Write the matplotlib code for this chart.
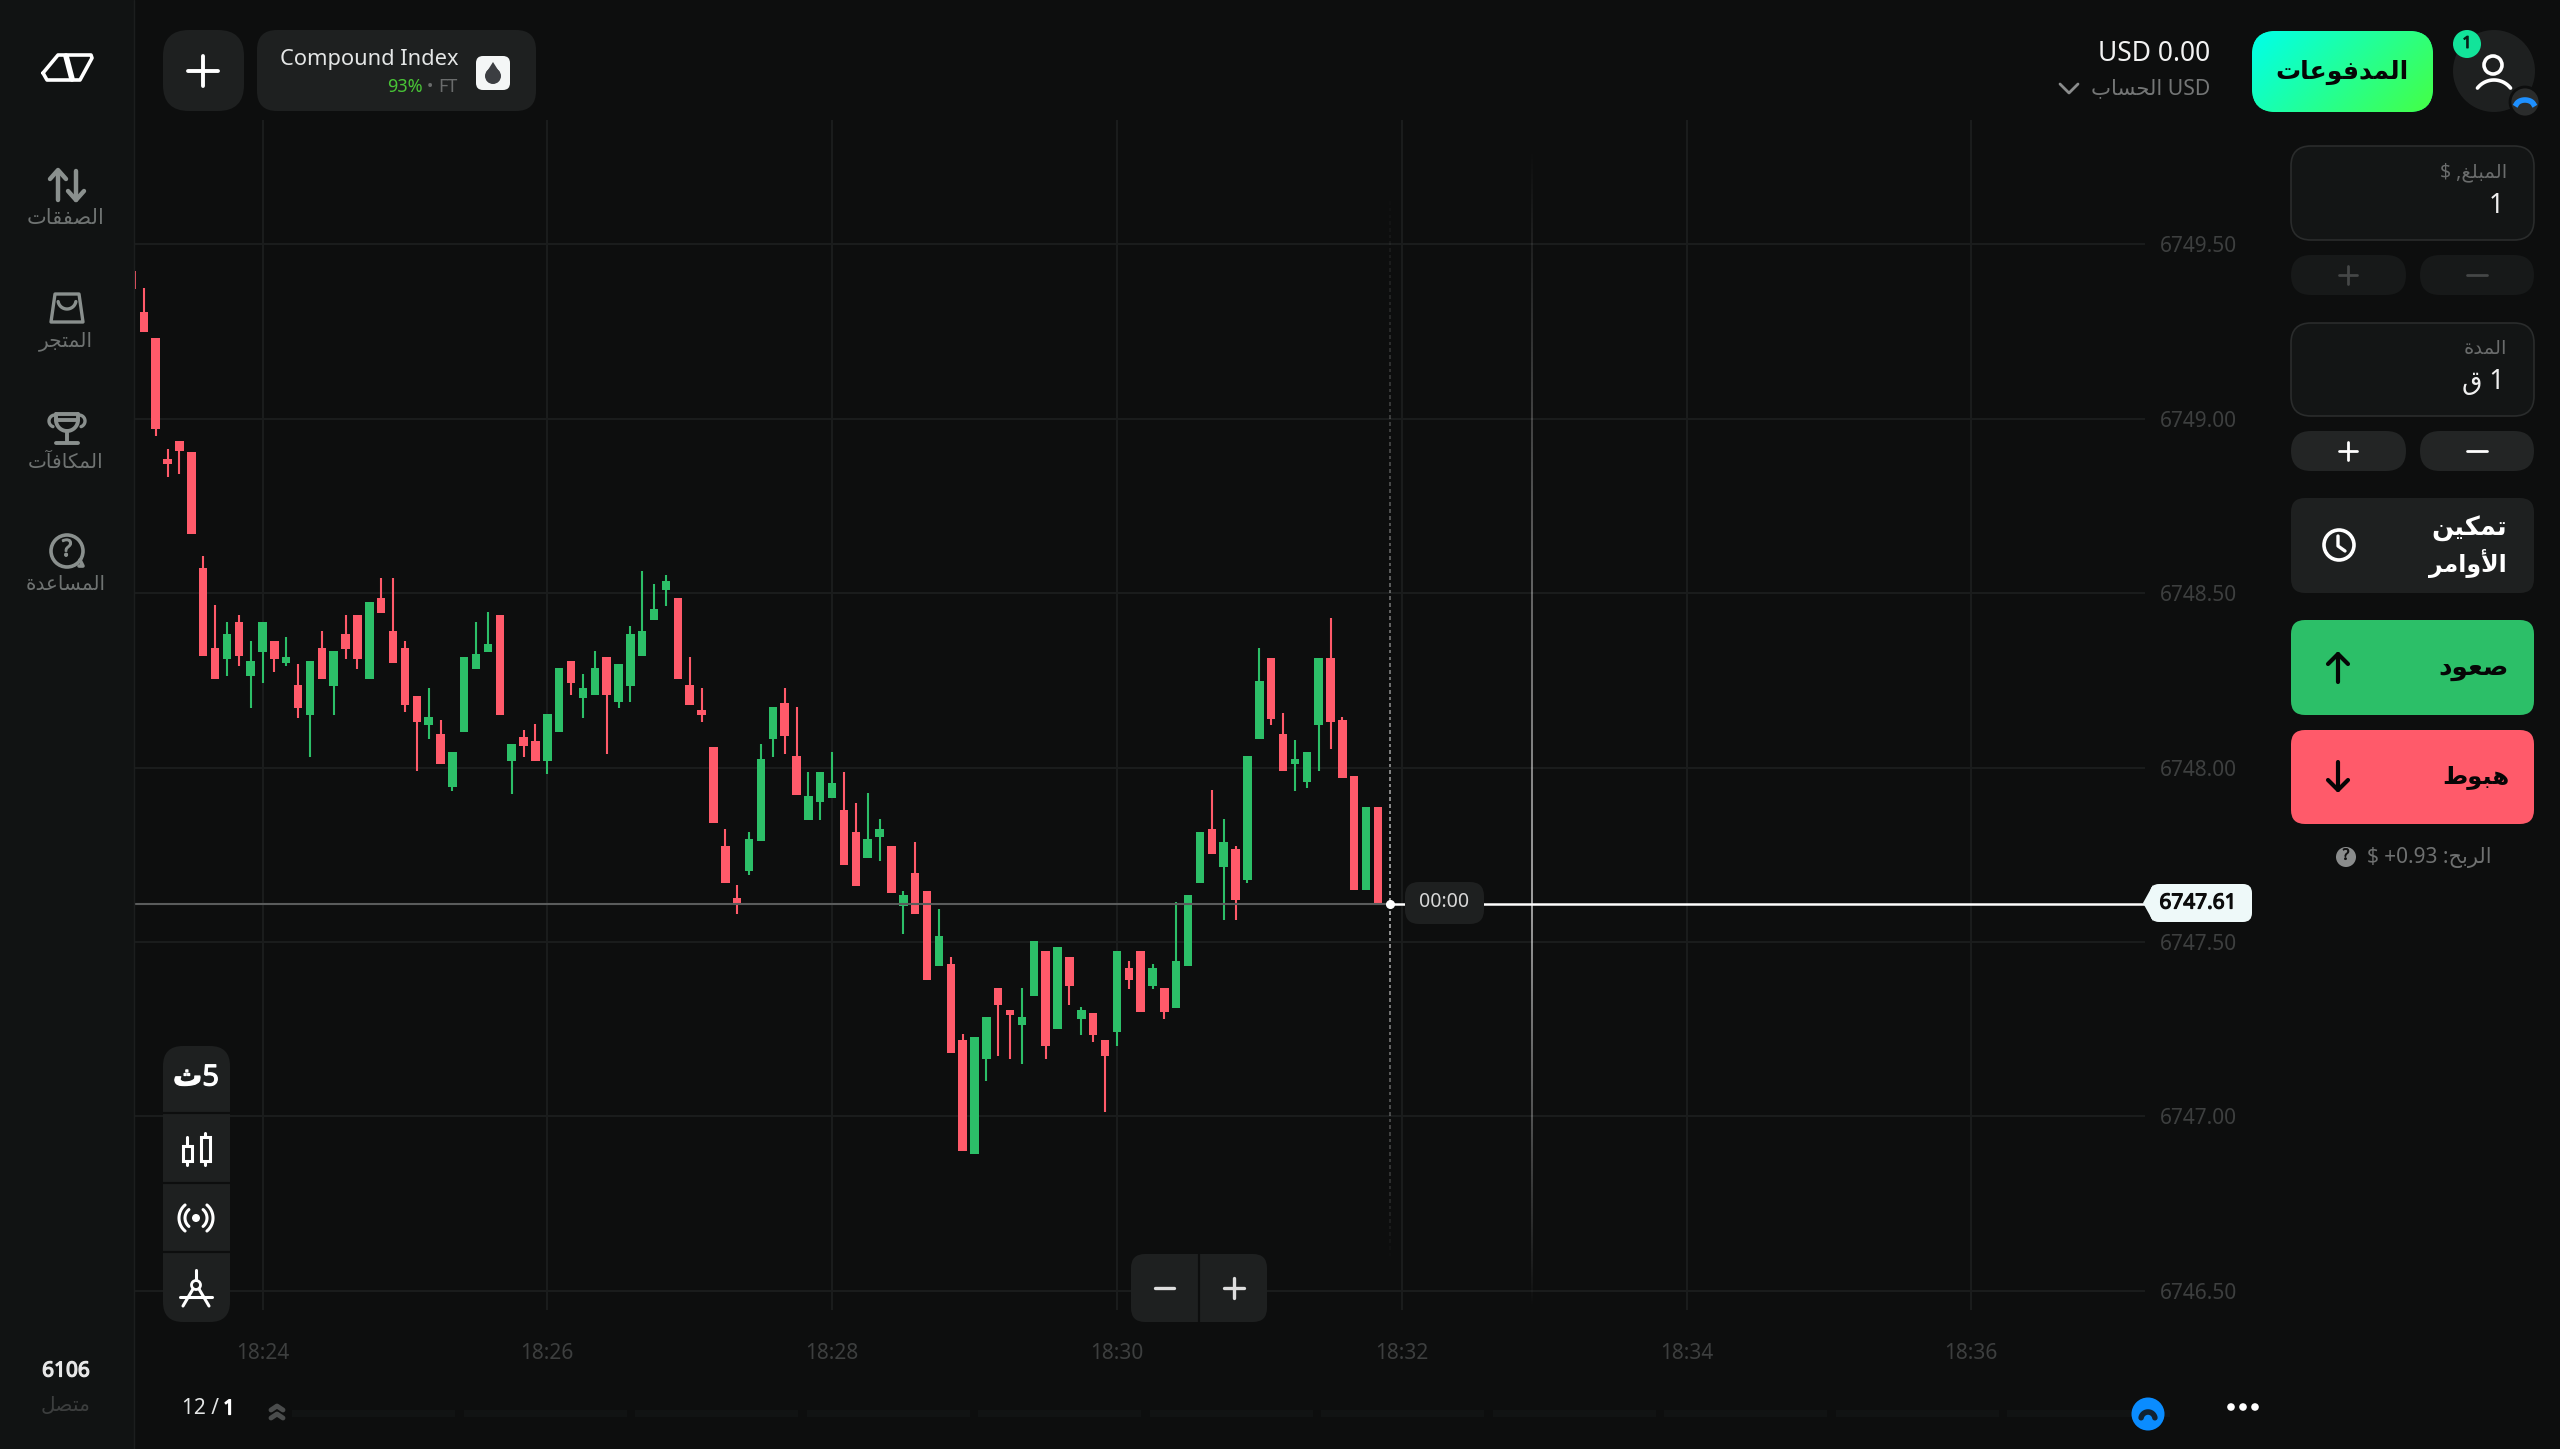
#!/usr/bin/env python3
import numpy as np
import matplotlib
matplotlib.use("Agg")
import matplotlib.pyplot as plt
import matplotlib.patheffects as pe
from matplotlib.patches import FancyBboxPatch, Circle, Polygon, Rectangle

plt.rcParams['font.family'] = ['Noto Sans', 'DejaVu Sans']

# seconds after 18:24:00, one candle every 5 s
candle_times = list(range(-55, 475, 5))

price_base = 6740
opens = [
    9.423, 9.306, 9.233, 8.884, 8.937, 8.904, 8.573, 8.344, 8.311, 8.417,
    8.263, 8.330, 8.364, 8.301, 8.238, 8.151, 8.344, 8.234, 8.383, 8.437,
    8.253, 8.486, 8.393, 8.344, 8.204, 8.121, 8.097, 7.943, 8.103, 8.282,
    8.330, 8.437, 8.020, 8.088, 8.077, 8.020, 8.103, 8.306, 8.199, 8.209,
    8.316, 8.189, 8.234, 8.321, 8.422, 8.510, 8.486, 8.238, 8.165, 8.058,
    7.776, 7.626, 7.703, 7.790, 8.082, 8.184, 8.034, 7.849, 7.902, 7.912,
    7.878, 7.816, 7.742, 7.800, 7.776, 7.602, 7.698, 7.645, 7.432, 7.436,
    7.218, 6.892, 7.164, 7.368, 7.305, 7.262, 7.344, 7.475, 7.252, 7.456,
    7.280, 7.296, 7.218, 7.242, 7.426, 7.475, 7.373, 7.368, 7.310, 7.432,
    7.669, 7.824, 7.714, 7.766, 7.678, 8.082, 8.315, 8.096, 8.009, 7.960,
    8.122, 8.315, 8.136, 7.975, 7.650, 7.888,
]
closes = [
    9.371, 9.249, 8.972, 8.870, 8.908, 8.670, 8.321, 8.253, 8.383, 8.321,
    8.306, 8.417, 8.311, 8.316, 8.170, 8.306, 8.253, 8.335, 8.340, 8.311,
    8.476, 8.442, 8.301, 8.180, 8.132, 8.146, 8.011, 8.044, 8.316, 8.325,
    8.355, 8.151, 8.068, 8.063, 8.020, 8.155, 8.286, 8.243, 8.228, 8.286,
    8.209, 8.296, 8.383, 8.393, 8.456, 8.534, 8.253, 8.180, 8.151, 7.840,
    7.669, 7.610, 7.795, 8.024, 8.174, 8.092, 7.922, 7.918, 7.986, 7.956,
    7.722, 7.660, 7.795, 7.824, 7.640, 7.635, 7.581, 7.392, 7.518, 7.183,
    6.901, 7.227, 7.285, 7.320, 7.290, 7.285, 7.504, 7.202, 7.485, 7.373,
    7.305, 7.232, 7.174, 7.475, 7.392, 7.300, 7.426, 7.300, 7.446, 7.636,
    7.816, 7.752, 7.786, 7.620, 8.034, 8.248, 8.140, 7.990, 8.024, 8.044,
    8.315, 8.130, 7.970, 7.650, 7.888, 7.611,
]
highs = [
    9.423, 9.375, 9.233, 8.913, 8.937, 8.904, 8.607, 8.465, 8.417, 8.437,
    8.364, 8.417, 8.364, 8.373, 8.296, 8.306, 8.393, 8.335, 8.437, 8.437,
    8.476, 8.544, 8.544, 8.364, 8.204, 8.228, 8.136, 8.044, 8.316, 8.417,
    8.446, 8.437, 8.068, 8.107, 8.126, 8.155, 8.286, 8.306, 8.268, 8.335,
    8.316, 8.296, 8.407, 8.564, 8.525, 8.553, 8.486, 8.316, 8.228, 8.058,
    7.824, 7.664, 7.815, 8.068, 8.174, 8.228, 8.174, 7.986, 7.986, 8.044,
    7.986, 7.898, 7.928, 7.854, 7.776, 7.645, 7.786, 7.645, 7.596, 7.456,
    7.237, 7.227, 7.285, 7.368, 7.305, 7.368, 7.504, 7.475, 7.485, 7.456,
    7.315, 7.296, 7.218, 7.475, 7.446, 7.475, 7.436, 7.368, 7.616, 7.636,
    7.816, 7.936, 7.854, 7.776, 8.034, 8.344, 8.315, 8.156, 8.078, 8.044,
    8.315, 8.428, 8.146, 7.975, 7.888, 7.888,
]
lows = [
    9.371, 9.249, 8.952, 8.832, 8.841, 8.670, 8.321, 8.253, 8.263, 8.291,
    8.170, 8.243, 8.273, 8.291, 8.141, 8.030, 8.253, 8.151, 8.311, 8.282,
    8.253, 8.442, 8.301, 8.160, 7.991, 8.083, 8.011, 7.932, 8.103, 8.282,
    8.330, 8.151, 7.923, 8.030, 8.020, 7.981, 8.103, 8.209, 8.141, 8.209,
    8.039, 8.170, 8.189, 8.321, 8.422, 8.462, 8.253, 8.180, 8.132, 7.840,
    7.669, 7.581, 7.693, 7.790, 8.030, 8.039, 7.922, 7.849, 7.850, 7.912,
    7.722, 7.660, 7.742, 7.732, 7.640, 7.524, 7.581, 7.392, 7.432, 7.183,
    6.901, 6.892, 7.101, 7.174, 7.164, 7.150, 7.344, 7.164, 7.252, 7.320,
    7.232, 7.212, 7.014, 7.202, 7.364, 7.300, 7.364, 7.280, 7.310, 7.432,
    7.669, 7.752, 7.563, 7.563, 7.669, 8.082, 8.122, 7.990, 7.932, 7.942,
    7.990, 8.054, 7.970, 7.650, 7.650, 7.611,
]

time_ticks = [0, 120, 240, 360, 480, 600, 720]
time_labels = ["18:24", "18:26", "18:28", "18:30", "18:32", "18:34", "18:36"]
price_ticks = [6746.5, 6747.0, 6747.5, 6748.0, 6748.5, 6749.0, 6749.5]
current_price = 6747.61
current_time = 475
expiry_time = 535

GREEN = "#2cbf68"
RED = "#ff5a6a"
BG = "#0d0e0e"
PANEL = "#1e2020"
GRID = "#1b1d1d"
ICON = "#8a908e"

# matplotlib has no Arabic shaping, so pick the joined glyphs and reverse
DUAL = {'ب': 0xFE8F, 'ت': 0xFE95, 'ث': 0xFE99, 'ج': 0xFE9D, 'ح': 0xFEA1, 'س': 0xFEB1,
        'ص': 0xFEB9, 'ط': 0xFEC1, 'ع': 0xFEC9, 'غ': 0xFECD, 'ف': 0xFED1, 'ق': 0xFED5,
        'ك': 0xFED9, 'ل': 0xFEDD, 'م': 0xFEE1, 'ن': 0xFEE5, 'ه': 0xFEE9, 'ي': 0xFEF1}
RIGHT = {'آ': 0xFE81, 'أ': 0xFE83, 'ا': 0xFE8D, 'ة': 0xFE93, 'د': 0xFEA9, 'ر': 0xFEAD, 'و': 0xFEED}
LAM_ALEF = {'آ': 0xFEF5, 'أ': 0xFEF7, 'ا': 0xFEFB}


def ar(word):
    out = []
    prev_joins = False
    i = 0
    while i < len(word):
        c = word[i]
        nxt = word[i + 1] if i + 1 < len(word) else ''
        if c == 'ل' and nxt and nxt in LAM_ALEF:
            out.append(chr(LAM_ALEF[nxt] + (1 if prev_joins else 0)))
            prev_joins = False
            i += 2
            continue
        if c in RIGHT:
            out.append(chr(RIGHT[c] + (1 if prev_joins else 0)))
            prev_joins = False
        else:
            joins_next = bool(nxt) and (nxt in DUAL or nxt in RIGHT)
            form = {(False, False): 0, (True, False): 1, (False, True): 2, (True, True): 3}[(prev_joins, joins_next)]
            out.append(chr(DUAL[c] + form))
            prev_joins = joins_next
        i += 1
    return ''.join(reversed(out))


fig = plt.figure(figsize=(25.6, 14.49), dpi=100, facecolor=BG)

# chart area, placed by pixels
left, right, top, bottom = 135, 2145, 120, 1310
ax = fig.add_axes([left / 2560, 1 - bottom / 1449, (right - left) / 2560, (bottom - top) / 1449])
ax.set_facecolor(BG)
px_per_sec = 142.4 / 60
px_per_price = 348.8
xlim = ((left - 262.5) / px_per_sec, (right - 262.5) / px_per_sec)
ylim = (6748 + (767.6 - bottom) / px_per_price, 6748 + (767.6 - top) / px_per_price)

for s in ax.spines.values():
    s.set_visible(False)
ax.yaxis.tick_right()
ax.set_xticks(time_ticks)
ax.set_xticklabels(time_labels)
ax.set_yticks(price_ticks)
ax.set_yticklabels(["{:.2f}".format(p) for p in price_ticks])
ax.tick_params(axis='x', length=0, pad=24, labelsize=15, labelcolor="#3d3f3f")
ax.tick_params(axis='y', length=0, pad=11, labelsize=15, labelcolor="#3d3f3f")
ax.grid(True, color=GRID, linewidth=1.4)
ax.set_axisbelow(True)

opens_p = price_base + np.array(opens)
closes_p = price_base + np.array(closes)
highs_p = price_base + np.array(highs)
lows_p = price_base + np.array(lows)
colors = [GREEN if c > o else RED for o, c in zip(opens_p, closes_p)]

ax.vlines(candle_times, lows_p, highs_p, colors=colors, linewidth=1.5, zorder=3)
ax.bar(candle_times, np.abs(closes_p - opens_p), bottom=np.minimum(opens_p, closes_p),
       width=3.55, color=colors, zorder=3)


def fade_alpha(ys, y_low, y_high, peak):
    # brightest at the current price, fading towards both ends
    dist = np.where(ys > current_price,
                    (ys - current_price) / (y_high - current_price),
                    (current_price - ys) / (current_price - y_low))
    return peak * (1 - np.clip(dist, 0, 1))


def fade_dashes(t, y_low, y_high, peak, step, on, lw):
    starts = np.arange(y_low, y_high, step)
    cols = [(1, 1, 1, al) for al in fade_alpha(starts, y_low, y_high, peak)]
    ax.vlines([t] * len(starts), starts, starts + on, colors=cols, linewidth=lw, zorder=2)


def fade_solid(t, y_low, y_high, peak, half_width):
    ys = np.linspace(y_low, y_high, 600)
    rgba = np.ones((600, 1, 4))
    rgba[:, 0, 3] = fade_alpha(ys, y_low, y_high, peak)
    ax.imshow(rgba, extent=(t - half_width, t + half_width, y_low, y_high), origin='lower',
              aspect='auto', zorder=2, interpolation='bilinear')


# current price and time marks
ax.plot([xlim[0], current_time], [current_price] * 2, color="#5a5c5c", lw=1.5, zorder=4)
ax.plot([current_time, xlim[1]], [current_price] * 2, color="white", lw=1.8, zorder=4)
ax.plot([current_time], [current_price], 'o', color="white", ms=5.5, zorder=6)
fade_dashes(current_time, 6746.58, 6749.65, 0.65, 0.0192, 0.0105, 1.3)
fade_solid(expiry_time, 6746.445, 6749.79, 0.6, 0.42)
ax.set_xlim(xlim)
ax.set_ylim(ylim)

# interface layer in pixel coordinates
ui = fig.add_axes([0, 0, 1, 1], zorder=5)
ui.patch.set_alpha(0)
ui.axis('off')


def box(x0, y0, x1, y1, color, radius=20, edge='none', lw=1.2):
    p = FancyBboxPatch((x0, y0), x1 - x0, y1 - y0, boxstyle="round,pad=0,rounding_size={}".format(radius),
                       facecolor=color, edgecolor=edge, linewidth=lw)
    ui.add_patch(p)
    return p


def txt(x, y, s, size, color="white", ha='center', weight='normal', fat=0, zorder=3):
    t = ui.text(x, y + 2, s, fontsize=size, color=color, ha=ha, va='center', fontweight=weight, zorder=zorder)
    if fat:
        # the numeral font only comes in one weight here, so thicken the outline
        t.set_path_effects([pe.withStroke(linewidth=fat, foreground=color)])


def ln(xs, ys, color="white", lw=2.2):
    ui.plot(xs, ys, color=color, lw=lw, solid_capstyle='round', solid_joinstyle='round')


def arc(cx, cy, r, a0, a1, color="white", lw=2.2):
    a = np.radians(np.linspace(a0, a1, 40))
    ln(cx + r * np.cos(a), cy - r * np.sin(a), color, lw)


def plus(cx, cy, r, color, lw=2.2):
    ln([cx - r, cx + r], [cy, cy], color, lw)
    ln([cx, cx], [cy - r, cy + r], color, lw)


# left sidebar
ui.add_patch(Rectangle((0, 0), 134, 1449, facecolor="#111313", edgecolor='none'))
ln([134, 134], [0, 1449], "#1c1e1e", 1)
ln([43, 58, 91, 92, 80, 47, 43], [73, 55, 55, 58, 80, 80, 73], "white", 2.6)
ln([66, 72], [56, 79], "white", 4)

ln([58, 58], [171, 200], ICON, 3.2)
ln([50, 58, 66], [179, 170, 179], ICON, 3.2)
ln([76, 76], [171, 200], ICON, 3.2)
ln([68, 76, 84], [191, 200, 191], ICON, 3.2)
txt(66, 217, ar('الصفقات'), 15, "#6f7372")

ui.add_patch(Polygon([(55, 294), (79, 294), (83, 322), (51, 322)], closed=True, fc='none', ec=ICON, lw=2.4, joinstyle='round'))
arc(67, 300, 9, 190, 350, ICON, 2.4)
txt(66, 339, ar('المتجر'), 14.5, "#6f7372")

arc(67, 420, 11, 180, 360, ICON, 2.8)
ln([56, 78], [414, 414], ICON, 2.8)
ln([56, 56, 78, 78], [414, 420, 420, 414], ICON, 2.8)
arc(55, 421, 6, 90, 250, ICON, 2.4)
arc(79, 421, 6, -70, 90, ICON, 2.4)
ln([67, 67], [431, 441], ICON, 2.8)
ln([56, 78], [443, 443], ICON, 2.8)
txt(66, 461, ar('المكافآت'), 14.5, "#6f7372")

ui.add_patch(Circle((67, 551), 16, fc='none', ec=ICON, lw=2.6))
ln([80, 83, 79], [560, 566, 566], ICON, 2.6)
txt(67, 548, "?", 17, ICON, weight='bold', fat=0.8)
txt(66, 583, ar('المساعدة'), 14.3, "#6f7372")

txt(66, 1369, "6106", 15, "#e8e8e8", fat=0.9)
txt(66, 1404, ar('متصل'), 14.5, "#3c3e3e")

# top left
box(163, 30, 244, 111, PANEL, 26)
plus(203, 71, 15, "white", 2.8)
box(257, 30, 536, 111, PANEL, 20)
txt(458, 57, "Compound Index", 15.7, "#e4e6e6", ha='right')
txt(458, 85, "FT", 13, "#6a6c6c", ha='right')
txt(430, 85, "•", 12, "#6a6c6c")
txt(423, 85, "93%", 13, "#48c436", ha='right')
box(476, 56, 510, 90, "#f4f6f6", 7)
ui.add_patch(Circle((493, 76), 8, fc="#3c3e42", ec='none'))
ui.add_patch(Polygon([(493, 62), (486, 73), (500, 73)], fc="#3c3e42", ec='none'))

# chart toolbar
box(163, 1046, 230, 1322, PANEL, 20)
for yy in [1113, 1183, 1252]:
    ln([163, 230], [yy, yy], BG, 1.6)
txt(196, 1076, ar('ث') + "5", 21, "white", weight='bold', fat=0.8)
for cx, y0, y1, w0, w1 in [(187, 1146, 1161, 1137, 1165), (205, 1137, 1161, 1133, 1165)]:
    ui.add_patch(Rectangle((cx - 4.5, y0), 9, y1 - y0, fc='none', ec="white", lw=2.2))
    ln([cx, cx], [w0, y0], "white", 2.2)
    ln([cx, cx], [y1, w1], "white", 2.2)
ui.add_patch(Circle((196, 1218), 4, fc="white", ec='none'))
arc(196, 1218, 11, -50, 50)
arc(196, 1218, 11, 130, 230)
arc(196, 1218, 17, -50, 50)
arc(196, 1218, 17, 130, 230)
ln([196, 196], [1270, 1280])
ui.add_patch(Circle((196, 1285), 4.5, fc='none', ec="white", lw=2))
ln([193, 183], [1289, 1306])
ln([199, 209], [1289, 1306])
ln([180, 212], [1297, 1297])

# zoom buttons
box(1131, 1254, 1267, 1322, PANEL, 14)
ln([1199, 1199], [1254, 1322], BG, 1.6)
ln([1155, 1174], [1288, 1288], "#dddddd", 2.4)
plus(1234, 1288, 10, "#dddddd", 2.4)

# price tag and timer
box(1405, 882, 1484, 924, PANEL, 14)
txt(1444, 900, "00:00", 14, "#d8d8d8")
box(2150, 884, 2252, 922, "#eef9f9", 9)
ui.add_patch(Polygon([(2143, 903), (2153, 885), (2153, 921)], fc="#eef9f9", ec='none'))
txt(2198, 901, "6747.61", 15, "#0c0c0c", fat=0.9)

# bottom strip
for x0 in np.arange(292, 2100, 171.5):
    ui.add_patch(Rectangle((x0, 1410), 163, 7, fc="#111313", ec='none'))
txt(235, 1407, "1", 15, "white", ha='right', fat=0.9)
txt(219, 1407, "12 /", 15, "#e4e6e6", ha='right')
ln([271, 277, 283], [1410, 1406, 1410], "#4a4c4c", 3.5)
ln([271, 277, 283], [1418, 1414, 1418], "#4a4c4c", 3.5)
ui.add_patch(Circle((2148, 1414), 16.5, fc="#0a8cff", ec='none'))
arc(2148, 1419, 7, 10, 170, "#112233", 4)
for xx in [2231, 2243, 2255]:
    ui.add_patch(Circle((xx, 1407), 3.8, fc="white", ec='none'))

# account, top right
txt(2210, 52, "USD 0.00", 19, "#f2f2f2", ha='right')
txt(2210, 87, ar('الحساب') + " USD", 15.3, "#747676", ha='right')
ln([2060, 2069, 2078], [84, 93, 84], "#8a8c8c", 2)

pay = box(2252, 31, 2433, 112, "#10ff99", 24)
gx, gy = np.meshgrid(np.linspace(0, 1, 200), np.linspace(0, 1, 40))
g = 0.7 * gx + 0.3 * gy
grad = np.dstack([0.27 * g, np.ones_like(g), 0.92 - 0.65 * g])
im = ui.imshow(grad, extent=(2252, 2433, 112, 31), aspect='auto', zorder=1.5)
im.set_clip_path(pay)
txt(2342, 70, ar('المدفوعات'), 18, "#060606", weight='bold')

ui.add_patch(Circle((2494, 71), 41, fc="#1e2020", ec='none'))
ui.add_patch(Circle((2493, 65), 9, fc='none', ec="white", lw=2.6))
arc(2494, 101, 21, 38, 142, "white", 2.6)
ui.add_patch(Circle((2467, 44), 14, fc="#12e49a", ec='none', zorder=3))
txt(2467, 42, "1", 12, "#062018", fat=0.7, zorder=4)
ui.add_patch(Circle((2525, 102), 15, fc="#2a2c2c", ec=BG, lw=2, zorder=3))
a = np.radians(np.linspace(20, 160, 30))
ui.plot(2525 + 9 * np.cos(a), 106 - 6 * np.sin(a), color="#1e90ff", lw=4, zorder=4)

# right panel
box(2291, 146, 2534, 240, "#131515", 20, "#2a2c2c")
txt(2507, 170, "$ ," + ar('المبلغ'), 14, "#6a6c6c", ha='right')
txt(2504, 204, "1", 19, "#f0f0f0", ha='right')
box(2291, 255, 2406, 295, "#171919", 20)
box(2420, 255, 2534, 295, "#171919", 20)
plus(2348, 275, 9, "#454747", 2)
ln([2467, 2487], [275, 275], "#454747", 2)

box(2291, 323, 2534, 416, "#131515", 20, "#2a2c2c")
txt(2507, 347, ar('المدة'), 14, "#6a6c6c", ha='right')
txt(2504, 380, ar('ق') + " 1", 19, "#f0f0f0", ha='right')
box(2291, 431, 2406, 471, "#232525", 20)
box(2420, 431, 2534, 471, "#232525", 20)
plus(2348, 451, 9, "white", 2)
ln([2467, 2487], [451, 451], "white", 2)

box(2291, 498, 2534, 593, PANEL, 14)
txt(2507, 527, ar('تمكين'), 18.5, "white", ha='right', weight='bold')
txt(2507, 562, ar('الأوامر'), 17, "white", ha='right', weight='bold')
ui.add_patch(Circle((2339, 545), 15, fc='none', ec="white", lw=2.6))
ln([2338, 2338, 2345], [536, 546, 551], "white", 2.4)

box(2291, 620, 2534, 715, GREEN, 14)
txt(2509, 666, ar('صعود'), 19, "#060606", ha='right', weight='bold')
ln([2338, 2338], [654, 682], "#060606", 3)
ln([2328, 2338, 2348], [664, 654, 664], "#060606", 3)

box(2291, 730, 2534, 824, RED, 14)
txt(2509, 775, ar('هبوط'), 17.5, "#060606", ha='right', weight='bold')
ln([2338, 2338], [762, 790], "#060606", 3)
ln([2328, 2338, 2348], [780, 790, 780], "#060606", 3)

txt(2492, 856, "$ +0.93 :" + ar('الربح'), 15, "#6f7171", ha='right')
ui.add_patch(Circle((2346, 857), 10, fc="#8a8c8c", ec='none'))
txt(2346, 854, "?", 11, "#111111", weight='bold', fat=0.5)

ui.set_xlim(0, 2560)
ui.set_ylim(1449, 0)

plt.savefig("out.png", dpi=100, facecolor=fig.get_facecolor())
